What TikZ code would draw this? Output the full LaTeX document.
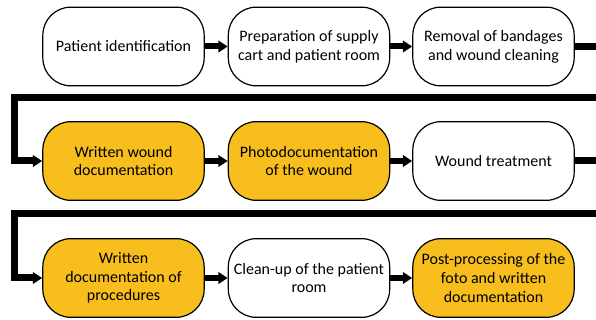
\documentclass[tikz,border=0pt]{standalone}
\usepackage{fontspec}
\setmainfont{Carlito}
\usetikzlibrary{arrows.meta}
\definecolor{docgold}{RGB}{247,190,30}
\tikzset{
  stepbox/.style={draw, line width=0.9pt, rounded corners=21pt, fill=white,
    minimum width=121pt, minimum height=59pt, inner sep=1pt, align=center,
    font=\fontsize{12}{14}\selectfont},
  docbox/.style={stepbox, fill=docgold},
  flow/.style={line width=4.5pt, -{Triangle[length=7pt,width=8.5pt]}},
  turn/.style={line width=5.25pt, -{Triangle[length=7pt,width=8.5pt]}},
}

\begin{document}
\begin{tikzpicture}[x=0.75pt,y=-0.75pt]
  \useasboundingbox (0,0) rectangle (596,320);
  \clip (0,0) rectangle (596,320);
  % first row
  \node[stepbox] (ident) at (123.5,46.5) {Patient identification};
  \node[stepbox] (prep) at (309,46.5) {Preparation of supply\\cart and patient room};
  \node[stepbox] (clean) at (493.5,46.5) {Removal of bandages\\and wound cleaning};
  % second row
  \node[docbox] (wrdoc) at (123.5,161) {Written wound\\documentation};
  \node[docbox] (photo) at (309,161) {Photodocumentation\\of the wound};
  \node[stepbox] (treat) at (493.5,161) {Wound treatment};
  % third row
  \node[docbox] (procdoc) at (123.5,278) {Written\\documentation of\\procedures};
  \node[stepbox] (cleanup) at (309,278) {Clean-up of the patient\\room};
  \node[docbox] (post) at (493.5,278) {Post-processing of the\\foto and written\\documentation};

  \draw[flow] (ident) -- (prep);
  \draw[flow] (prep) -- (clean);
  \draw[flow] (wrdoc) -- (photo);
  \draw[flow] (photo) -- (treat);
  \draw[flow] (procdoc) -- (cleanup);
  \draw[flow] (cleanup) -- (post);

  % wrap-around lines between the rows
  \draw[turn] (clean.east) -- (625,46.5) -- (625,98) -- (14,98) |- (wrdoc.west);
  \draw[turn] (treat.east) -- (625,161) -- (625,214) -- (14,214) |- (procdoc.west);
\end{tikzpicture}
\end{document}
